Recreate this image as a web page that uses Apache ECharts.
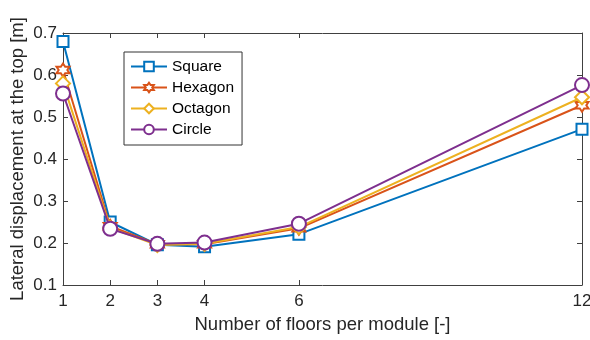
<!DOCTYPE html>
<html><head><meta charset="utf-8">
<script src="https://cdn.jsdelivr.net/npm/echarts@6/dist/echarts.min.js"></script>
<style>html,body{margin:0;padding:0;background:#fff}#c{width:590px;height:340px}</style>
</head><body><div id="c"></div>
<script>
const floors = [1, 2, 3, 4, 6, 12];
const xTicks = [1, 2, 3, 4, 6, 12];
const square = [0.680, 0.250, 0.196, 0.191, 0.221, 0.471];
const hexagon = [0.612, 0.240, 0.197, 0.197, 0.235, 0.528];
const octagon = [0.580, 0.236, 0.195, 0.198, 0.238, 0.547];
const circle = [0.556, 0.234, 0.198, 0.201, 0.246, 0.576];
const names = ['Square', 'Hexagon', 'Octagon', 'Circle'];
const colors = ['#0072BD', '#D95319', '#EDB120', '#7E2F8E'];
const hexPath = 'path://M0,-10 L2.887,-5 L8.66,-5 L5.774,0 L8.66,5 L2.887,5 L0,10 L-2.887,5 L-8.66,5 L-5.774,0 L-8.66,-5 L-2.887,-5 Z';
const symbols = ['rect', hexPath, 'diamond', 'circle'];
const sizes = [11, 13, 14, 14];
const allData = [square, hexagon, octagon, circle];
const font = 'Liberation Sans';
const axisCol = '#404040';

const series = names.map((n, i) => ({
  name: n, type: 'line',
  data: floors.map((f, j) => [f, allData[i][j]]),
  symbol: symbols[i], symbolSize: sizes[i],
  lineStyle: {color: colors[i], width: 2},
  itemStyle: {color: '#fff', borderColor: colors[i], borderWidth: 2},
  emphasis: {disabled: true},
  z: 2 + i
}));

const chart = echarts.init(document.getElementById('c'), null, {renderer: 'canvas'});
chart.setOption({
  animation: false,
  backgroundColor: '#fff',
  textStyle: {fontFamily: font},
  grid: {left: 63, right: 8, top: 33, bottom: 55, show: false, containLabel: false, outerBoundsMode: 'none'},
  legend: {
    left: 124, top: 52, orient: 'vertical',
    backgroundColor: '#fff', borderColor: '#333', borderWidth: 1,
    padding: [6, 8, 7, 6], itemGap: 4, itemWidth: 36, itemHeight: 12,
    textStyle: {fontFamily: font, fontSize: 15.5, color: '#000', lineHeight: 17},
    data: names
  },
  xAxis: [{
    type: 'value', min: 1, max: 12,
    name: 'Number of floors per module [-]', nameLocation: 'middle', nameGap: 30,
    nameMoveOverlap: false,
    nameTextStyle: {fontFamily: font, fontSize: 18.5, color: '#262626'},
    axisLine: {show: true, lineStyle: {color: axisCol, width: 1}},
    axisTick: {show: true, inside: true, length: 5, lineStyle: {color: axisCol},
      customValues: xTicks},
    axisLabel: {fontFamily: font, fontSize: 17, color: '#262626', margin: 8,
      customValues: xTicks},
    splitLine: {show: false}
  }, {
    type: 'value', min: 1, max: 12, position: 'top',
    axisLine: {show: true, lineStyle: {color: axisCol, width: 1}},
    axisTick: {show: true, inside: true, length: 5, lineStyle: {color: axisCol},
      customValues: xTicks},
    axisLabel: {show: false}, splitLine: {show: false}
  }],
  yAxis: [{
    type: 'value', min: 0.1, max: 0.7, interval: 0.1,
    name: 'Lateral displacement at the top [m]', nameLocation: 'middle', nameGap: 36,
    nameMoveOverlap: false,
    nameTextStyle: {fontFamily: font, fontSize: 18.5, color: '#262626'},
    axisLine: {show: true, lineStyle: {color: axisCol, width: 1}},
    axisTick: {show: true, inside: true, length: 5, lineStyle: {color: axisCol}},
    axisLabel: {fontFamily: font, fontSize: 17, color: '#262626', margin: 6,
      formatter: v => v.toFixed(1)},
    splitLine: {show: false}
  }, {
    type: 'value', min: 0.1, max: 0.7, interval: 0.1, position: 'right',
    axisLine: {show: true, lineStyle: {color: axisCol, width: 1}},
    axisTick: {show: true, inside: true, length: 5, lineStyle: {color: axisCol}},
    axisLabel: {show: false}, splitLine: {show: false}
  }],
  series: series
});
</script></body></html>
